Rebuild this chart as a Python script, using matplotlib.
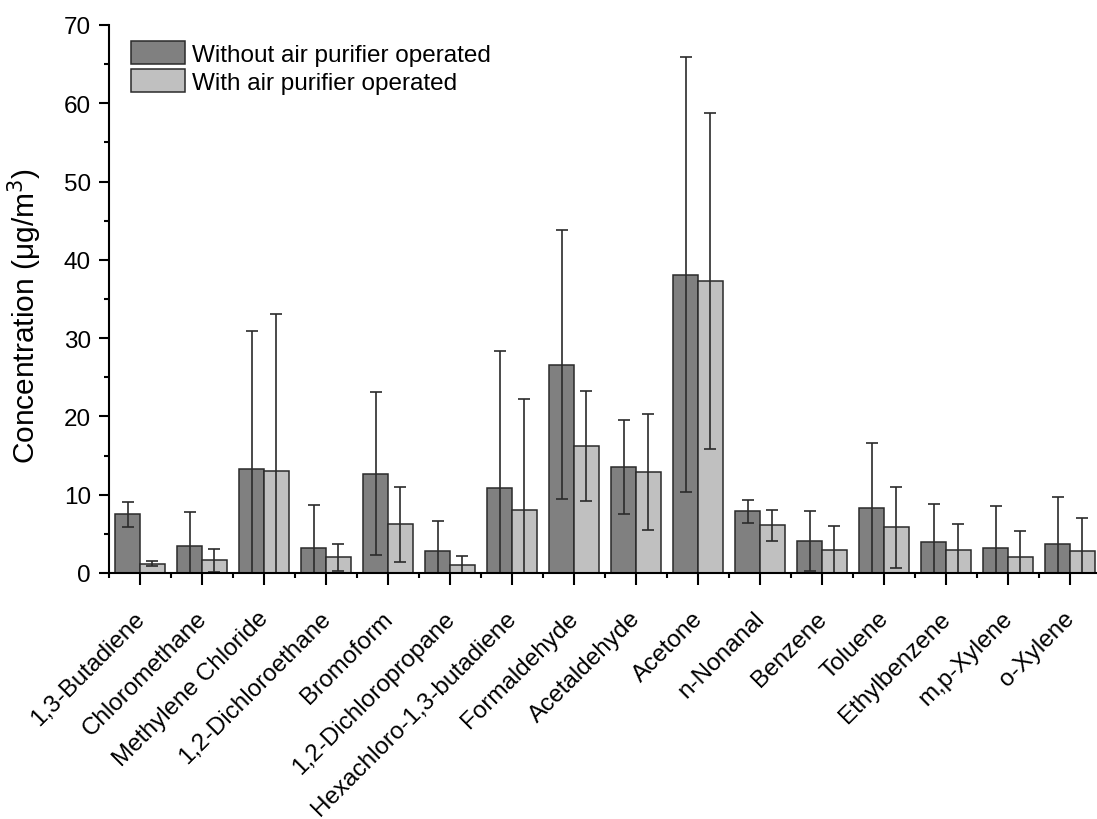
import numpy as np
import matplotlib
matplotlib.use('Agg')
import matplotlib.pyplot as plt
import matplotlib.transforms as mtransforms

plt.rcParams['font.family'] = ['Liberation Sans', 'DejaVu Sans']

compounds = ['1,3-Butadiene', 'Chloromethane', 'Methylene Chloride', '1,2-Dichloroethane',
             'Bromoform', '1,2-Dichloropropane', 'Hexachloro-1,3-butadiene', 'Formaldehyde',
             'Acetaldehyde', 'Acetone', 'n-Nonanal', 'Benzene', 'Toluene', 'Ethylbenzene',
             'm,p-Xylene', 'o-Xylene']
without_mean = [7.5, 3.5, 13.3, 3.2, 12.7, 2.8, 10.9, 26.6, 13.5, 38.1, 7.9, 4.1, 8.3, 4.0, 3.2, 3.7]
without_sd = [1.6, 4.3, 17.6, 5.5, 10.4, 3.8, 17.5, 17.2, 6.0, 27.8, 1.45, 3.8, 8.3, 4.8, 5.3, 6.05]
with_mean = [1.2, 1.6, 13.0, 2.0, 6.2, 1.05, 8.1, 16.2, 12.9, 37.3, 6.1, 2.9, 5.85, 2.9, 2.1, 2.8]
with_sd = [0.35, 1.45, 20.1, 1.75, 4.8, 1.15, 14.1, 7.0, 7.4, 21.4, 2.0, 3.1, 5.15, 3.3, 3.3, 4.25]

labels = ['Without air purifier operated', 'With air purifier operated']
colors = ['#808080', '#c0c0c0']
fs = 17.5

fig = plt.figure(figsize=(10.97, 8.2), dpi=100)
ax = fig.add_axes([109 / 1097, 246 / 820, 992 / 1097, 548 / 820])

x = np.arange(len(compounds))
w = 0.4
err_kw = dict(ecolor='#2b2b2b', elinewidth=1.2, capsize=4.4, capthick=1.2)
ax.bar(x - w / 2, without_mean, w, yerr=without_sd, color=colors[0], edgecolor='#2a2a2a',
       linewidth=1.1, error_kw=err_kw, label=labels[0])
ax.bar(x + w / 2, with_mean, w, yerr=with_sd, color=colors[1], edgecolor='#2a2a2a',
       linewidth=1.1, error_kw=err_kw, label=labels[1])

ax.set_xlim(-0.5, 15.5)
ax.set_ylim(0, 70)
ax.set_yticks(np.arange(0, 71, 10))
ax.set_yticks(np.arange(5, 70, 10), minor=True)
ax.set_xticks(x)
ax.set_xticks(np.arange(-0.5, 16, 1), minor=True)
ax.set_xticklabels([])

# category labels drawn as texts, shifted so the glyphs end just right of each tick
offset = mtransforms.ScaledTranslation(9 / 100, -34 / 100, fig.dpi_scale_trans)
for xi, name in zip(x, compounds):
    ax.text(xi, 0, name, transform=ax.get_xaxis_transform() + offset, rotation=45,
            ha='right', va='top', fontsize=fs, clip_on=False)

for s in ['top', 'right']:
    ax.spines[s].set_visible(False)
for s in ['left', 'bottom']:
    ax.spines[s].set_linewidth(1.5)

ax.tick_params(axis='y', which='major', length=7, width=1.5, labelsize=fs, pad=6)
ax.tick_params(axis='y', which='minor', length=3.5, width=1.5)
ax.tick_params(axis='x', which='major', length=8.6, width=1.5)
ax.tick_params(axis='x', which='minor', length=3.6, width=1.5)

ax.set_ylabel('Concentration (\u03bcg/m$^3$)', fontsize=21.5)
ax.yaxis.set_label_coords(-0.066, 0.47)

leg = ax.legend(loc='upper left', bbox_to_anchor=(22 / 992, 1 - 16 / 548), frameon=False,
                fontsize=fs, handlelength=2.22, handleheight=1.11, handletextpad=0.29,
                labelspacing=0.12, borderaxespad=0, borderpad=0)
for p in leg.get_patches():
    p.set_edgecolor('#2a2a2a')
    p.set_linewidth(1.1)

fig.savefig('out.png', dpi=100)
